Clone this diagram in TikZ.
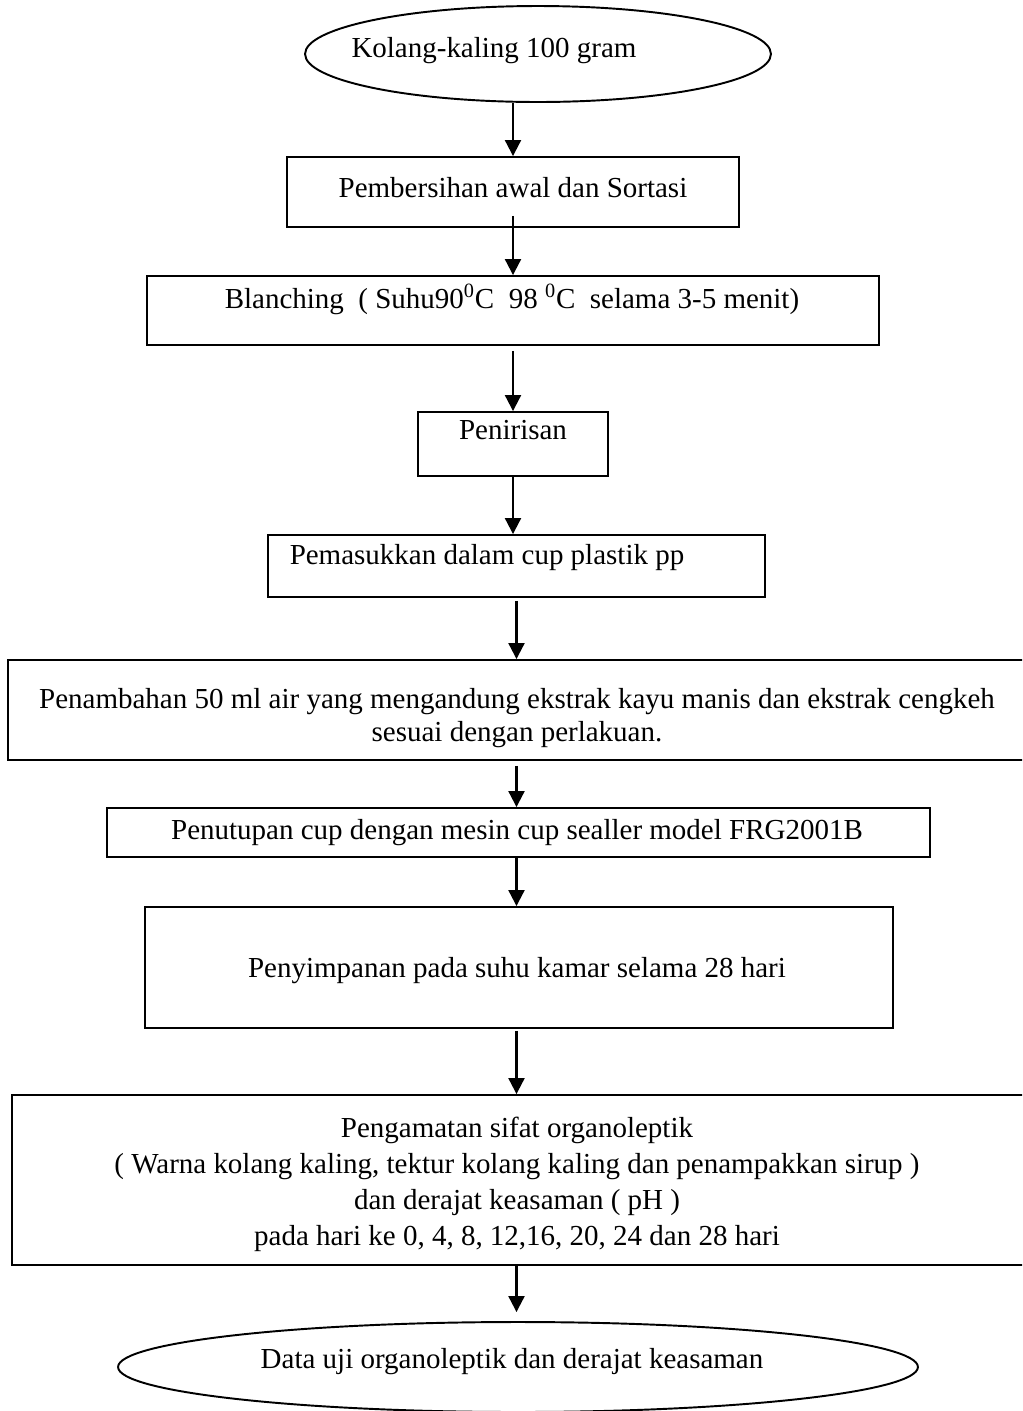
\documentclass[tikz,border=0pt]{standalone}
\usepackage{fontspec}
\setmainfont{Liberation Serif}
\usepackage{tikz}
\usetikzlibrary{arrows.meta,shapes.geometric,calc}
\tikzset{
    % Process step (plain rectangle)
    stepbox/.style={
        rectangle, draw=black, line width=1.1pt,
        inner sep=0pt
    },
    % Start / end (ellipse)
    stepoval/.style={
        ellipse, draw=black, line width=1.1pt,
        inner sep=0pt
    },
    % Text inside the steps
    steptext/.style={
        font=\fontsize{16.5}{19}\selectfont,
        align=center, inner sep=0pt
    },
    % Arrow between steps
    flowarrow/.style={
        line width=1.2pt,
        -{Triangle[length=0.32cm,width=0.32cm]}
    },
}

\begin{document}
\begin{tikzpicture}[x=0.02cm,y=-0.02cm]
  \clip (0,0) rectangle (1022,1411);
  % boxes and ovals
  \node[stepoval,minimum width=9.32cm,minimum height=1.92cm] (kolang) at (538,54) {};
  \node[stepbox,minimum width=9.04cm,minimum height=1.40cm] (bersih) at (513,192) {};
  \node[stepbox,minimum width=14.64cm,minimum height=1.38cm] (blanch) at (513,310.5) {};
  \node[stepbox,minimum width=3.80cm,minimum height=1.28cm] (tiris) at (513,444) {};
  \node[stepbox,minimum width=9.94cm,minimum height=1.24cm] (masuk) at (516.5,566) {};
  \node[stepbox,minimum width=20.36cm,minimum height=2.00cm] (tambah) at (517,710) {};
  \node[stepbox,minimum width=16.46cm,minimum height=0.98cm] (tutup) at (518.5,832.5) {};
  \node[stepbox,minimum width=14.96cm,minimum height=2.42cm] (simpan) at (519,967.5) {};
  \node[stepbox,minimum width=20.24cm,minimum height=3.40cm] (amati) at (518,1180) {};
  \node[stepoval,minimum width=16.00cm,minimum height=1.80cm] (data) at (518,1367) {};

  % texts
  \node[steptext] (kolang-t) at (494,51) {Kolang-kaling 100 gram};
  \node[steptext] (bersih-t) at (513,188) {Pembersihan awal dan Sortasi};
  \node[steptext] (blanch-t) at (512,299)
    {Blanching\ \ ( Suhu90\textsuperscript{0}C\ \ 98 \textsuperscript{0}C\ \ selama 3-5 menit)};
  \node[steptext] (tiris-t) at (513,430) {Penirisan};
  \node[steptext] (masuk-t) at (487,558) {Pemasukkan dalam cup plastik pp};
  \node[steptext,font=\fontsize{16.5}{18.8}\selectfont] (tambah-t) at (517,718)
    {Penambahan 50 ml air yang mengandung ekstrak kayu manis dan ekstrak cengkeh\\
     sesuai dengan perlakuan.};
  \node[steptext] (tutup-t) at (517,833) {Penutupan cup dengan mesin cup sealler model FRG2001B};
  \node[steptext] (simpan-t) at (517,971) {Penyimpanan pada suhu kamar selama 28 hari};
  \node[steptext,font=\fontsize{16.5}{20.5}\selectfont] (amati-t) at (517,1184)
    {Pengamatan sifat organoleptik\\
     ( Warna kolang kaling, tektur kolang kaling dan penampakkan sirup )\\
     dan derajat keasaman ( pH )\\
     pada hari ke 0, 4, 8, 12,16, 20, 24 dan 28 hari};
  \node[steptext] (data-t) at (512,1362) {Data uji organoleptik dan derajat keasaman};

  % arrows
  \draw[flowarrow] (bersih.north |- kolang.south) -- (bersih.north);
  \draw[flowarrow] ([yshift=0.24cm]bersih.south) -- (blanch.north);
  \draw[flowarrow] ([yshift=-0.1cm]blanch.south) -- (tiris.north);
  \draw[flowarrow] (tiris.south) -- (tiris.south |- masuk.north);
  \draw[flowarrow] ([yshift=-0.06cm]masuk.south) -- (masuk.south |- tambah.north);
  \draw[flowarrow] ([yshift=-0.1cm]masuk.south |- tambah.south) -- (masuk.south |- tutup.north);
  \draw[flowarrow] (masuk.south |- tutup.south) -- (masuk.south |- simpan.north);
  \draw[flowarrow] ([yshift=-0.04cm]masuk.south |- simpan.south) -- (masuk.south |- amati.north);
  \draw[flowarrow] (masuk.south |- amati.south) -- ([yshift=0.18cm]masuk.south |- data.north);
\end{tikzpicture}
\end{document}
